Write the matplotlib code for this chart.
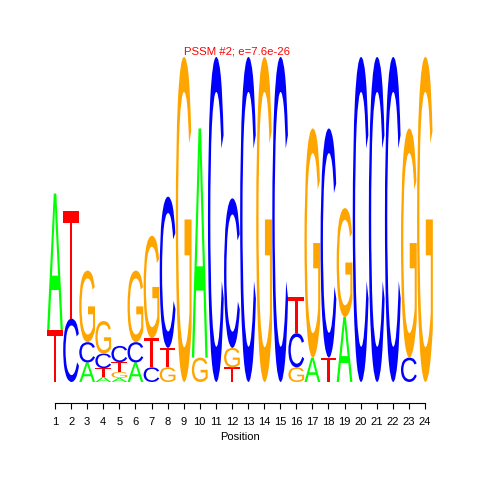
import numpy as np
import matplotlib
matplotlib.use("Agg")
import matplotlib.pyplot as plt
from matplotlib.textpath import TextPath
from matplotlib.patches import PathPatch
from matplotlib.font_manager import FontProperties
from matplotlib.transforms import Affine2D

plt.rcParams['font.family'] = ['Liberation Sans', 'DejaVu Sans']

# information content (bits) of each base at positions 1..24
positions = np.arange(1, 25)
A = [0.84, 0, 0.12, 0.03, 0.025, 0.12, 0, 0, 0, 1.41, 0, 0, 0, 0, 0, 0,
     0.15, 0, 0.40, 0, 0, 0, 0, 0]
C = [0, 0.39, 0.125, 0.09, 0.10, 0.125, 0.09, 0.93, 0, 0, 2.0, 0.92, 2.0, 0,
     2.0, 0.21, 0, 1.41, 0, 2.0, 2.0, 2.0, 0.15, 0]
G = [0, 0, 0.44, 0.20, 0.037, 0.44, 0.63, 0.09, 2.0, 0.15, 0, 0.12, 0, 2.0,
     0, 0.09, 1.41, 0, 0.67, 0, 0, 0, 1.41, 2.0]
T = [0.32, 0.66, 0, 0.055, 0.06, 0, 0.18, 0.12, 0, 0, 0, 0.09, 0, 0, 0,
     0.22, 0, 0.15, 0, 0, 0, 0, 0, 0]

bases = {"A": A, "C": C, "G": G, "T": T}
colors = {"A": "#00FF00", "C": "#0000FF", "G": "#FFA500", "T": "#FF0000"}

fp = FontProperties(family="Liberation Sans")


def draw_letter(ax, letter, x, y, w, h, color):
    tp = TextPath((0, 0), letter, size=1, prop=fp)
    ext = tp.get_extents()
    tr = (Affine2D().translate(-ext.x0, -ext.y0)
          .scale(w / ext.width, h / ext.height)
          .translate(x - w / 2, y))
    patch = PathPatch(tr.transform_path(tp), facecolor=color, lw=0)
    ax.add_patch(patch)


fig = plt.figure(figsize=(4.8, 4.8), dpi=100)
ax = fig.add_axes([0.0978, 0.2042, 0.8043, 0.6771])

for i, pos in enumerate(positions):
    col = sorted(bases.keys(), key=lambda b: bases[b][i])
    y = 0.0
    for b in col:
        h = bases[b][i]
        if h <= 0:
            continue
        draw_letter(ax, b, pos, y, 0.98, h, colors[b])
        y += h

ax.set_xlim(0.5, 24.5)
ax.set_ylim(0, 2)
for s in ["top", "right", "left"]:
    ax.spines[s].set_visible(False)
ax.spines["bottom"].set_position(("outward", 15))
ax.spines["bottom"].set_bounds(1, 24)
ax.spines["bottom"].set_linewidth(0.8)
ax.set_yticks([])
ax.set_xticks(positions)
ax.set_xticklabels([str(p) for p in positions])
ax.tick_params(axis="x", direction="out", length=4, width=0.8, pad=6.5,
               labelsize=8)

fig.text(0.494, 1 - 52 / 480, "PSSM #2; e=7.6e-26", color="red",
         fontsize=8.2, ha="center", va="center")
fig.text(0.5, 1 - 437 / 480, "Position", fontsize=8, ha="center",
         va="center")

fig.savefig("out.png", dpi=100)
